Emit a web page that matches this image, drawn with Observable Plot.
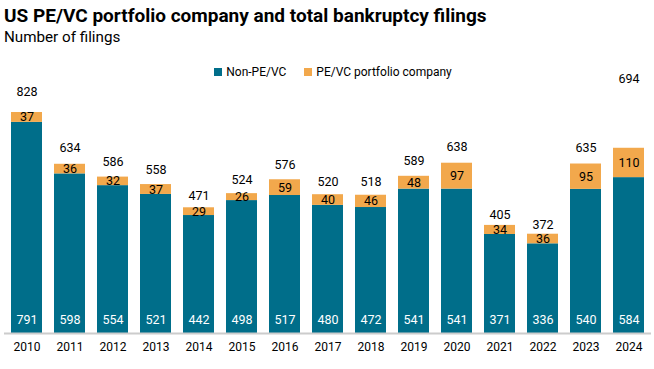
<!DOCTYPE html>
<html>
<head>
<meta charset="utf-8">
<script src="https://cdn.jsdelivr.net/npm/d3@7"></script>
<script src="https://cdn.jsdelivr.net/npm/@observablehq/plot@0.6"></script>
<style>
  html, body { margin: 0; padding: 0; background: #fff; }
  body { width: 654px; height: 369px; position: relative; overflow: hidden; font-family: Roboto, "Liberation Sans", sans-serif; color: #000; }
  #title { position: absolute; left: 4px; top: 4px; font-size: 19px; font-weight: 700; line-height: 24px; white-space: nowrap; }
  #subtitle { position: absolute; left: 4px; top: 27px; font-size: 15.2px; line-height: 20px; white-space: nowrap; }
  #legend { position: absolute; left: 0; width: 654px; top: 63px; font-size: 12px; line-height: 18px; display: flex; justify-content: center; gap: 18px; padding-left: 12px; box-sizing: border-box; z-index: 2; }
  .item { display: flex; align-items: center; gap: 4px; }
  .sw { width: 8px; height: 8px; display: inline-block; }
  #chart { position: absolute; left: 0; top: 82px; }
  #chart svg { overflow: visible; }
</style>
</head>
<body>
<div id="title">US PE/VC portfolio company and total bankruptcy filings</div>
<div id="subtitle">Number of filings</div>
<div id="legend"></div>
<div id="chart"></div>
<script>
const years = ["2010","2011","2012","2013","2014","2015","2016","2017","2018","2019","2020","2021","2022","2023","2024"];
const nonPE = [791, 598, 554, 521, 442, 498, 517, 480, 472, 541, 541, 371, 336, 540, 584];
const peVC  = [37, 36, 32, 37, 29, 26, 59, 40, 46, 48, 97, 34, 36, 95, 110];
const totals = [828, 634, 586, 558, 471, 524, 576, 520, 518, 589, 638, 405, 372, 635, 694];
const seriesNames = ["Non-PE/VC", "PE/VC portfolio company"];
const colors = ["#006e8a", "#f2a84c"];

const stacked = [];
years.forEach((yr, i) => {
  stacked.push({year: yr, series: seriesNames[0], value: nonPE[i]});
  stacked.push({year: yr, series: seriesNames[1], value: peVC[i]});
});
const rows = years.map((yr, i) => ({year: yr, nonPE: nonPE[i], pe: peVC[i], total: totals[i], last: i === years.length - 1}));

// legend
const legend = document.getElementById("legend");
seriesNames.forEach((s, i) => {
  const it = document.createElement("div");
  it.className = "item";
  it.innerHTML = `<span class="sw" style="background:${colors[i]}"></span><span>${s}</span>`;
  legend.appendChild(it);
});

const font = "Roboto, 'Liberation Sans', sans-serif";
const chart = Plot.plot({
  width: 654,
  height: 287,
  marginTop: 30,
  marginBottom: 36,
  marginLeft: 4,
  marginRight: 3,
  style: {fontFamily: font, fontSize: "12px", color: "#000", background: "transparent", overflow: "visible"},
  x: {domain: years, paddingInner: 0.28, paddingOuter: 0.15, label: null, tickSize: 0, tickPadding: 9},
  y: {domain: [0, 828], axis: null},
  color: {domain: seriesNames, range: colors},
  marks: [
    Plot.barY(stacked, Plot.stackY({x: "year", y: "value", fill: "series", order: seriesNames})),
    Plot.ruleY([0], {stroke: "#cccccc", strokeWidth: 2}),
    Plot.text(rows, {x: "year", y: 0, text: d => String(d.nonPE), dy: -14, fill: "#fff", fontSize: 12.5}),
    Plot.text(rows, {x: "year", y: d => d.nonPE + d.pe / 2, text: d => String(d.pe), fill: "#000", fontSize: 12.5}),
    Plot.text(rows.filter(d => !d.last), {x: "year", y: d => d.total * 1.095, text: d => String(d.total), fill: "#000", fontSize: 12.5}),
    Plot.text(rows.filter(d => d.last), {x: "year", y: d => d.total * 1.095, dy: -52, text: d => String(d.total), fill: "#000", fontSize: 12.5})
  ]
});
document.getElementById("chart").appendChild(chart);
</script>
</body>
</html>
